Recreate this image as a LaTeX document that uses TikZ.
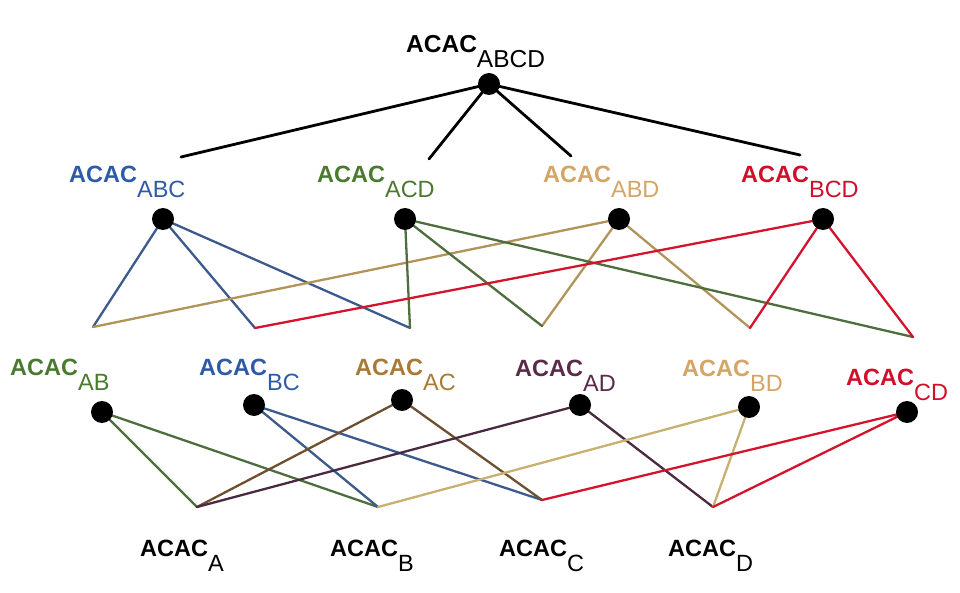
\documentclass[tikz,border=0pt]{standalone}
\usepackage{fontspec}
\setmainfont{Liberation Sans}
\definecolor{cblue}{HTML}{2F5AA8}
\definecolor{cbluel}{HTML}{3D5A8C}
\definecolor{cgreen}{HTML}{4A7A30}
\definecolor{cgreenl}{HTML}{4E6E3E}
\definecolor{ctan}{HTML}{D4A565}
\definecolor{ctanl}{HTML}{B09458}
\definecolor{cred}{HTML}{D0102A}
\definecolor{credl}{HTML}{D4142C}
\definecolor{cbrown}{HTML}{A87A35}
\definecolor{cbrownl}{HTML}{6E5030}
\definecolor{cpurple}{HTML}{5A2A4A}
\definecolor{cpurplel}{HTML}{4A2A40}
\definecolor{cbdl}{HTML}{C8B070}
\begin{document}
\begin{tikzpicture}[x=1pt,y=-1pt,
  dot/.style={circle,fill=black,inner sep=0pt,minimum size=22pt},
  lab/.style={anchor=base west,inner sep=0pt,font=\fontsize{23.5pt}{28pt}\selectfont},
  edge/.style={line width=2.3pt,line cap=round,line join=round},
  topedge/.style={line width=2.8pt,line cap=round}]
\useasboundingbox (0,0) rectangle (960,593);
\newcommand{\acac}[1]{\textbf{ACAC}\raisebox{-15pt}{#1}}

% coordinates
\coordinate (t1) at (181,157);
\coordinate (t2) at (429,159);
\coordinate (t3) at (571,156);
\coordinate (t4) at (800,155);
\coordinate (cAB) at (93,327);
\coordinate (cBC) at (255,328);
\coordinate (cAC) at (410,328);
\coordinate (cAD) at (542,326);
\coordinate (cBD) at (750,328);
\coordinate (cCD) at (913,337);
\coordinate (bA) at (197,507);
\coordinate (bB) at (378,507);
\coordinate (bC) at (542,500);
\coordinate (bD) at (713,507);

% dot positions
\coordinate (pABCD) at (489,84);
\coordinate (pABC) at (163,219);
\coordinate (pACD) at (405,219);
\coordinate (pABD) at (619,219);
\coordinate (pBCD) at (823,219);
\coordinate (pAB) at (102,412);
\coordinate (pBC) at (254,405);
\coordinate (pAC) at (402,400);
\coordinate (pAD) at (580,405);
\coordinate (pBD) at (749,407);
\coordinate (pCD) at (907,412);

% top lines
\draw[topedge] (pABCD) -- (t1);
\draw[topedge] (pABCD) -- (t2);
\draw[topedge] (pABCD) -- (t3);
\draw[topedge] (pABCD) -- (t4);

% level 2 lines
\draw[edge,cbluel] (cAB) -- (pABC) -- (cBC);
\draw[edge,cbluel] (pABC) -- (cAC);
\draw[edge,ctanl] (cAB) -- (pABD) -- (cAD);
\draw[edge,ctanl] (pABD) -- (cBD);
\draw[edge,cgreenl] (cAC) -- (pACD) -- (cAD);
\draw[edge,cgreenl] (pACD) -- (cCD);
\draw[edge,credl] (cBC) -- (pBCD) -- (cBD);
\draw[edge,credl] (pBCD) -- (cCD);

% level 3 lines
\draw[edge,cgreenl] (bA) -- (pAB) -- (bB);
\draw[edge,cbluel] (bB) -- (pBC) -- (bC);
\draw[edge,cbrownl] (bA) -- (pAC) -- (bC);
\draw[edge,cpurplel] (bA) -- (pAD) -- (bD);
\draw[edge,cbdl] (bB) -- (pBD) -- (bD);
\draw[edge,credl] (bC) -- (pCD) -- (bD);

% dots
\foreach \p in {ABCD,ABC,ACD,ABD,BCD,AB,BC,AC,AD,BD,CD}
  \node[dot] (d\p) at (p\p) {};

% labels
\node[lab,font=\fontsize{24.5pt}{29pt}\selectfont] (lABCD) at (406,53) {\acac{ABCD}};
\node[lab,cblue] (lABC) at (69,183) {\acac{ABC}};
\node[lab,cgreen] (lACD) at (317,183) {\acac{ACD}};
\node[lab,ctan] (lABD) at (543,183) {\acac{ABD}};
\node[lab,cred] (lBCD) at (741,183) {\acac{BCD}};
\node[lab,cgreen] (lAB) at (10,375) {\acac{AB}};
\node[lab,cblue] (lBC) at (199,375) {\acac{BC}};
\node[lab,cbrown] (lAC) at (355,375) {\acac{AC}};
\node[lab,cpurple] (lAD) at (515,376) {\acac{AD}};
\node[lab,ctan] (lBD) at (682,376) {\acac{BD}};
\node[lab,cred] (lCD) at (846,385) {\acac{CD}};
\node[lab] (lA) at (140,556) {\acac{A}};
\node[lab] (lB) at (330,556) {\acac{B}};
\node[lab] (lC) at (499,556) {\acac{C}};
\node[lab] (lD) at (668,556) {\acac{D}};
\end{tikzpicture}
\end{document}
